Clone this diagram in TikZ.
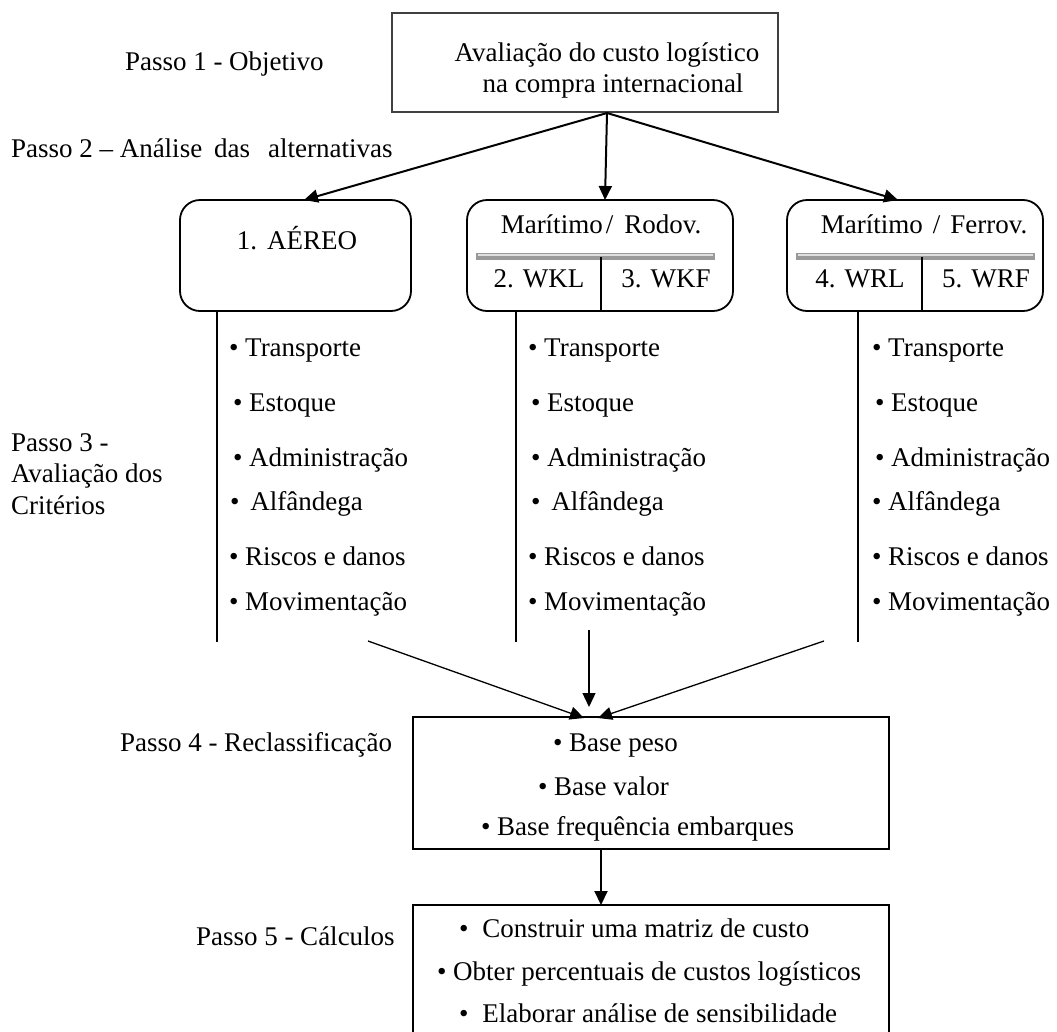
\documentclass[tikz,border=0pt]{standalone}
\usepackage{fontspec}
\setmainfont{Liberation Serif}
\usetikzlibrary{arrows.meta,calc}

\begin{document}
\begin{tikzpicture}[x=1pt,y=-1pt,
  every node/.style={inner sep=0pt, outer sep=0pt, font=\fontsize{27}{31}\selectfont},
  lbl/.style={anchor=base west},
  ctr/.style={anchor=base},
  goalbox/.style={draw=black!75, line width=1.8pt, minimum width=386pt, minimum height=99pt},
  modebox/.style={draw=black, line width=1.8pt, rounded corners=20pt},
  stepbox/.style={draw=black, line width=2pt},
  arr/.style={line width=2pt, -{Triangle[length=14pt,width=13pt]}},
  thinarr/.style={line width=1.3pt, -{Triangle[length=14pt,width=13pt]}},
  stem/.style={line width=1.8pt},
  barouter/.style={draw=black!40, line width=7pt},
  barinner/.style={draw=black!12, line width=1.4pt},
]
\clip (0,0) rectangle (1057,1031);
\fill[white] (0,0) rectangle (1057,1031);

% ---- step labels on the left
\node[lbl] (p1)  at (125,70)  {Passo 1 - Objetivo};
\node[lbl] (p2)  at (11,157)  {Passo 2 – Análise\hspace{12pt}das\hspace{18pt}alternativas};
\node[lbl] (p3a) at (11,451)  {Passo 3 -};
\node[lbl] (p3b) at (11,482)  {Avaliação dos};
\node[lbl] (p3c) at (11,514)  {Critérios};
\node[lbl] (p4)  at (120,751) {Passo 4 - Reclassificação};
\node[lbl] (p5)  at (196,945) {Passo 5 - Cálculos};

% ---- objective box
\node[goalbox] (goal) at (585,62.5) {};
\node[ctr] (goalA) at (607,61) {Avaliação do custo logístico};
\node[ctr] (goalB) at (613,92) {na compra internacional};

% ---- the three transport alternatives
\node[modebox, minimum width=231pt, minimum height=111pt] (air)  at (295.5,255.5) {};
\node[modebox, minimum width=266pt, minimum height=111pt] (sea1) at (600,255.5) {};
\node[modebox, minimum width=256pt, minimum height=111pt] (sea2) at (915,255.5) {};

\node[ctr] (airT)  at (297,249) {1.\hspace{10pt}AÉREO};
\node[ctr] (sea1T) at (601,233) {Marítimo\hspace{3pt}/\hspace{11pt}Rodov.};
\node[ctr] (sea2T) at (924,233) {Marítimo\hspace{10pt}/\hspace{10pt}Ferrov.};

\draw[barouter] (476,256) -- (715,256);
\draw[barinner] (478,255) -- (713,255);
\draw[barouter] (796,256) -- (1035,256);
\draw[barinner] (798,255) -- (1033,255);

\draw[stem] (601,257) -- (sea1.south -| 601,0);
\draw[stem] (922,257) -- (sea2.south -| 922,0);

\node[ctr] (wkl) at (539,287) {2. WKL};
\node[ctr] (wkf) at (666,287) {3. WKF};
\node[ctr] (wrl) at (860,287) {4. WRL};
\node[ctr] (wrf) at (986,287) {5. WRF};

% ---- branching arrows from the objective
\coordinate (fork) at (607,113);
\draw[arr] (fork) -- ($(air.north)+(8.5,0)$);
\draw[arr] (fork) -- ($(sea1.north)+(5,0)$);
\draw[arr] (fork) -- ($(sea2.north)+(-17,0)$);

% ---- criteria stems
\draw[stem] (air.south -| 217,0)  -- (217,642);
\draw[stem] (sea1.south -| 516,0) -- (516,642);
\draw[stem] (sea2.south -| 858,0) -- (858,642);

% criteria, column 1
\node[lbl] (a1) at (229,356) {• Transporte};
\node[lbl] (a2) at (233,411) {• Estoque};
\node[lbl] (a3) at (233,466) {• Administração};
\node[lbl] (a4) at (230,510) {•\hspace{11pt}Alfândega};
\node[lbl] (a5) at (229,565) {• Riscos e danos};
\node[lbl] (a6) at (229,610) {• Movimentação};
% criteria, column 2
\node[lbl] (b1) at (528,356) {• Transporte};
\node[lbl] (b2) at (531,411) {• Estoque};
\node[lbl] (b3) at (531,466) {• Administração};
\node[lbl] (b4) at (531,510) {•\hspace{11pt}Alfândega};
\node[lbl] (b5) at (528,565) {• Riscos e danos};
\node[lbl] (b6) at (528,610) {• Movimentação};
% criteria, column 3
\node[lbl] (c1) at (872,356) {• Transporte};
\node[lbl] (c2) at (875,411) {• Estoque};
\node[lbl] (c3) at (875,466) {• Administração};
\node[lbl] (c4) at (872,510) {• Alfândega};
\node[lbl] (c5) at (872,565) {• Riscos e danos};
\node[lbl] (c6) at (872,610) {• Movimentação};

% ---- reclassification box
\node[stepbox, minimum width=476pt, minimum height=132pt] (recl) at (651,783) {};
\node[lbl] (r1) at (553,751) {• Base peso};
\node[lbl] (r2) at (538,795) {• Base valor};
\node[lbl] (r3) at (481,835) {• Base frequência embarques};

\coordinate (fromA) at (368,641);
\coordinate (fromB) at (589,630);
\coordinate (fromC) at (824,641);
\draw[thinarr] (fromA) -- ($(recl.north)+(-67,1)$);
\draw[thinarr] (fromB) -- ($(recl.north)+(-62,-10)$);
\draw[thinarr] (fromC) -- ($(recl.north)+(-53,1)$);

% ---- calculations box
\node[stepbox, minimum width=476pt, minimum height=140pt] (calcs) at (651,975) {};
\draw[arr] ($(recl.south)+(-50,0)$) -- ($(calcs.north)+(-50,0)$);

\node[lbl] (k1) at (459,937)  {•\hspace{14pt}Construir uma matriz de custo};
\node[lbl] (k2) at (437,980)  {• Obter percentuais de custos logísticos};
\node[lbl] (k3) at (459,1022) {•\hspace{14pt}Elaborar análise de sensibilidade};
\end{tikzpicture}
\end{document}
